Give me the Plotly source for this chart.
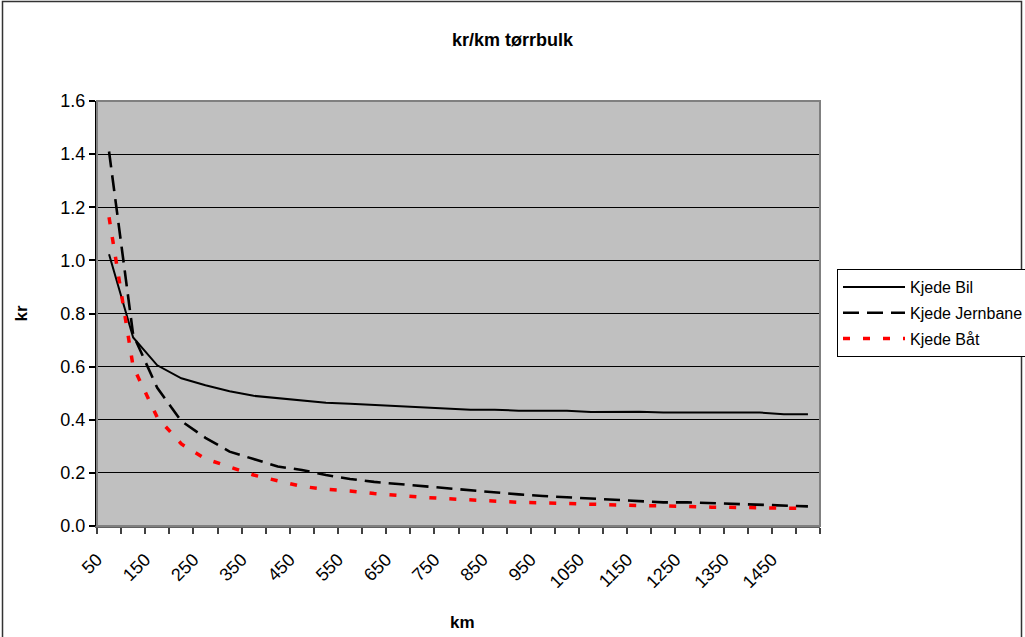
import plotly.graph_objects as go

# distance in km (one category every 50 km)
km = [50, 100, 150, 200, 250, 300, 350, 400, 450, 500,
      550, 600, 650, 700, 750, 800, 850, 900, 950, 1000,
      1050, 1100, 1150, 1200, 1250, 1300, 1350, 1400, 1450, 1500]

kjede_bil = [1.023, 0.71, 0.605, 0.556, 0.53, 0.507, 0.49, 0.481, 0.473, 0.464,
             0.46, 0.456, 0.452, 0.447, 0.442, 0.438, 0.438, 0.434, 0.434, 0.434,
             0.429, 0.429, 0.43, 0.427, 0.427, 0.427, 0.427, 0.427, 0.421, 0.421]

kjede_jernbane = [1.41, 0.72, 0.52, 0.395, 0.332, 0.28, 0.252, 0.224, 0.211, 0.192,
                  0.177, 0.166, 0.158, 0.15, 0.142, 0.133, 0.125, 0.119, 0.113, 0.108,
                  0.102, 0.097, 0.092, 0.089, 0.089, 0.086, 0.083, 0.08, 0.078, 0.074]

kjede_baat = [1.162, 0.60, 0.409, 0.309, 0.253, 0.223, 0.192, 0.17, 0.149, 0.138,
              0.132, 0.122, 0.114, 0.108, 0.103, 0.098, 0.093, 0.089, 0.087, 0.084,
              0.08, 0.079, 0.077, 0.076, 0.072, 0.071, 0.07, 0.068, 0.067, 0.066]

x_labels = [50, 150, 250, 350, 450, 550, 650, 750, 850, 950,
            1050, 1150, 1250, 1350, 1450]
y_ticks = [0.0, 0.2, 0.4, 0.6, 0.8, 1.0, 1.2, 1.4, 1.6]

FONT = 'Liberation Sans, Arial, sans-serif'

fig = go.Figure()

fig.add_trace(go.Scatter(
    x=km, y=kjede_bil, mode='lines', name='Kjede Bil',
    legendgroup='bil',
    line=dict(color='black', width=2)
))
fig.add_trace(go.Scatter(
    x=km, y=kjede_jernbane, mode='lines', name='Kjede Jernbane',
    legendgroup='jernbane',
    line=dict(color='black', width=2.6, dash='16px,8px')
))
fig.add_trace(go.Scatter(
    x=km, y=kjede_baat, mode='lines', name='Kjede Båt',
    legendgroup='baat',
    line=dict(color='#FF0000', width=3.5, dash='7px,13px')
))

fig.update_layout(
    width=1025,
    height=637,
    paper_bgcolor='white',
    plot_bgcolor='#C0C0C0',
    font=dict(family=FONT, size=18, color='black'),
    margin=dict(l=97, r=205, t=101, b=111, autoexpand=False),
    title=dict(
        text='<b>kr/km tørrbulk</b>',
        font=dict(family=FONT, size=18, color='black'),
        xref='container', x=0.5, xanchor='center',
        yref='container', y=1 - 40 / 637, yanchor='middle'
    ),
    showlegend=True,
    legend=dict(
        x=(837 - 97) / 723, xanchor='left',
        y=(526 - 269) / 425, yanchor='top',
        bgcolor='white',
        bordercolor='black',
        borderwidth=1,
        font=dict(family=FONT, size=16, color='black'),
        itemwidth=62,
        traceorder='grouped',
        tracegroupgap=2
    ),
    shapes=[
        # outer chart frame
        dict(type='rect', xref='paper', yref='paper',
             x0=(2.5 - 97) / 723, x1=(1021.5 - 97) / 723,
             y0=(526 - 660) / 425, y1=(526 - 1.5) / 425,
             line=dict(color='#333333', width=1.5), layer='below'),
        # plot area border
        dict(type='rect', xref='paper', yref='paper',
             x0=0, x1=1, y0=0, y1=1,
             line=dict(color='#808080', width=2), layer='above'),
    ],
    annotations=[
        dict(text='<b>km</b>', xref='paper', yref='paper',
             x=(462 - 97) / 723, y=(526 - 622) / 425,
             xanchor='center', yanchor='middle', showarrow=False,
             font=dict(family=FONT, size=17, color='black')),
    ]
)

fig.update_xaxes(
    range=[25, 1525],
    tickmode='array',
    tickvals=x_labels,
    ticktext=[str(v) for v in x_labels],
    tickangle=-45,
    ticks='',
    ticklabelstandoff=14,
    ticklabelshift=-12,
    showgrid=False,
    zeroline=False,
    showline=True, linecolor='#606060', linewidth=2,
    tickfont=dict(family=FONT, size=18, color='black'),
    minor=dict(ticks='outside', tick0=25, dtick=50, ticklen=6,
               tickcolor='#404040', tickwidth=1.5, showgrid=False)
)

fig.update_yaxes(
    range=[0, 1.6],
    tickmode='array',
    tickvals=y_ticks,
    tickformat='.1f',
    ticks='outside', ticklen=6, tickcolor='black', tickwidth=1.5,
    showgrid=True, gridcolor='black', gridwidth=1,
    zeroline=False,
    showline=True, linecolor='black', linewidth=2,
    tickfont=dict(family=FONT, size=18, color='black'),
    title=dict(text='<b>kr</b>', standoff=28,
               font=dict(family=FONT, size=17, color='black'))
)

fig.write_html('out.html', config={'displayModeBar': False},
               post_script="document.body.style.margin='0';")
